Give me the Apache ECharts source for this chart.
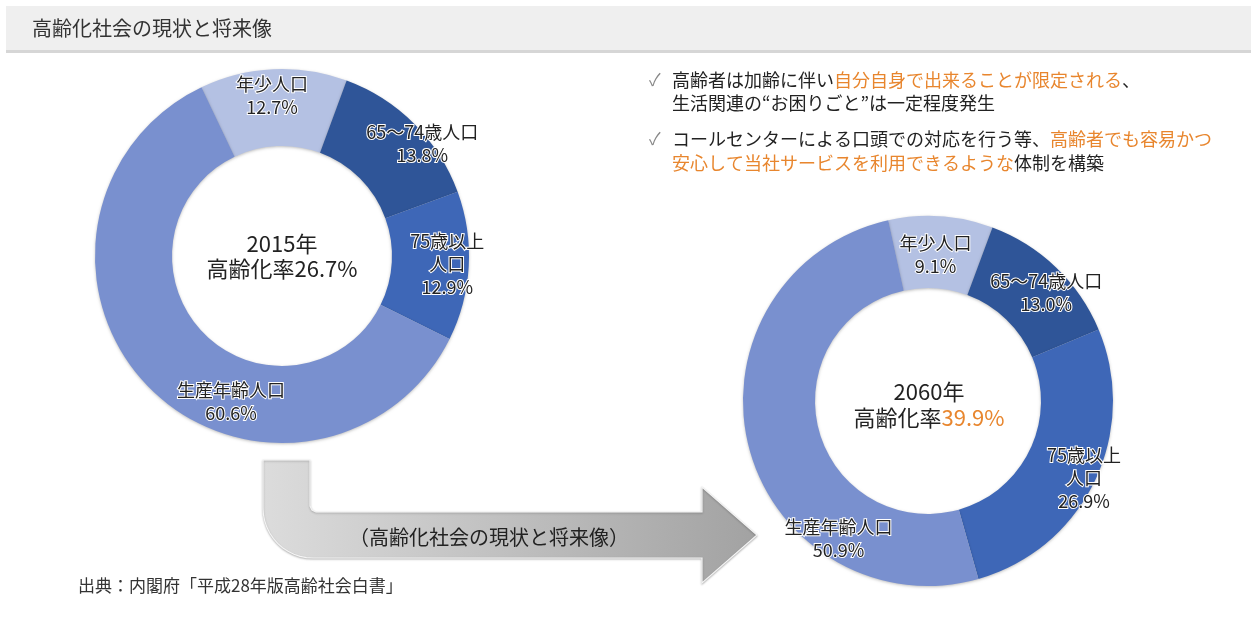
<!DOCTYPE html>
<html>
<head>
<meta charset="utf-8">
<script src="https://cdn.jsdelivr.net/npm/echarts@6/dist/echarts.min.js"></script>
<style>
html,body{margin:0;padding:0;background:#fff;}
#c{width:1251px;height:637px;}
</style>
</head>
<body>
<div id="c"></div>
<script>
// ---- data ----
const categories = ['年少人口', '65～74歳人口', '75歳以上\n人口', '生産年齢人口'];
const years = ['2015年', '2060年'];
const values2015 = [12.7, 13.8, 12.9, 60.6];
const values2060 = [9.1, 13.0, 26.9, 50.9];
const titleText = '高齢化社会の現状と将来像';
const arrowText = '（高齢化社会の現状と将来像）';
const sourceText = '出典：内閣府「平成28年版高齢社会白書」';

// ---- styles ----
const FONT = '"Noto Sans CJK JP", "Noto Sans", sans-serif';
const colors = ['#b4c1e3', '#2f5598', '#3e67b7', '#7990cf'];
const ORANGE = '#e8862e';
const TXT = '#222';
const offsets2015 = [[-3, -9], [33, -5], [14, 0], [57, 39]];
const offsets2060 = [[-3, 5], [13, 1], [19, 11], [58, 101]];

function pieSeries(values, center, radius, startAngle, offs) {
  return {
    type: 'pie',
    center: center,
    radius: radius,
    startAngle: startAngle,
    clockwise: true,
    silent: true,
    animation: false,
    itemStyle: { shadowColor: 'rgba(0,0,0,0.25)', shadowBlur: 3, shadowOffsetY: 1 },
    label: {
      show: true,
      position: 'inside',
      fontFamily: FONT,
      fontSize: 18,
      lineHeight: 23,
      color: TXT,
      textBorderColor: '#ffffff',
      textBorderWidth: 2,
      formatter: p => p.name + '\n' + p.value.toFixed(1) + '%'
    },
    labelLayout: p => ({ dx: offs[p.dataIndex][0], dy: offs[p.dataIndex][1] }),
    data: values.map((v, i) => ({ name: categories[i], value: v, itemStyle: { color: colors[i] } }))
  };
}

const rate2015 = (values2015[1] + values2015[2]).toFixed(1) + '%';
const rate2060 = (values2060[1] + values2060[2]).toFixed(1) + '%';

// arrow outline (decoration)
const arrowPts = [[263, 460], [310, 460], [310, 506], [312, 510], [316, 512], [702, 512], [702, 487], [757, 535], [702, 583], [702, 558], [313, 558]];
for (let k = 1; k <= 12; k++) {
  const t = k / 12 * Math.PI / 2;
  arrowPts.push([313 - 50 * Math.sin(t), 508 + 50 * Math.cos(t)]);
}

const chart = echarts.init(document.getElementById('c'), null, { renderer: 'canvas' });

const txt = (x, y, text, size, extra) => ({
  type: 'text', x: x, y: y, silent: true,
  style: Object.assign({ text: text, fontFamily: FONT, fontSize: size, fill: TXT }, extra || {})
});
const rich18 = { a: { fontFamily: FONT, fontSize: 18, fill: TXT }, o: { fontFamily: FONT, fontSize: 18, fill: ORANGE } };
const rich22 = { a: { fontFamily: FONT, fontSize: 22, fill: TXT }, o: { fontFamily: FONT, fontSize: 22, fill: ORANGE } };

chart.setOption({
  backgroundColor: '#ffffff',
  animation: false,
  series: [
    pieSeries(values2015, [282, 256], [110, 187], 115.5, offsets2015),
    pieSeries(values2060, [928, 401], [113, 185], 102.4, offsets2060)
  ],
  graphic: [
    // title bar
    { type: 'rect', silent: true, z: -1, shape: { x: 6, y: 6, width: 1245, height: 44 }, style: { fill: '#efefef' } },
    { type: 'rect', silent: true, z: -1, shape: { x: 6, y: 50, width: 1245, height: 3 }, style: { fill: '#d6d6d6' } },
    txt(32, 28, titleText, 20, { fill: '#333', verticalAlign: 'middle' }),
    // arrow
    {
      type: 'polygon', silent: true, z: -1,
      shape: { points: arrowPts },
      style: {
        fill: new echarts.graphic.LinearGradient(0, 0, 1, 0, [
          { offset: 0, color: '#dcdcdc' }, { offset: 1, color: '#a2a2a2' }
        ]),
        stroke: '#f4f4f4', lineWidth: 1.2,
        shadowColor: 'rgba(0,0,0,0.25)', shadowBlur: 2, shadowOffsetY: 1
      }
    },
    txt(489, 537, arrowText, 20, { textAlign: 'center', verticalAlign: 'middle' }),
    // source
    txt(78, 586, sourceText, 17, { fill: '#333', verticalAlign: 'middle' }),
    // center texts
    txt(282, 244, years[0], 22, { textAlign: 'center', verticalAlign: 'middle' }),
    txt(282, 269, '高齢化率' + rate2015, 22, { textAlign: 'center', verticalAlign: 'middle' }),
    txt(929, 392, years[1], 22, { textAlign: 'center', verticalAlign: 'middle' }),
    txt(929, 418, '{a|高齢化率}{o|' + rate2060 + '}', 22, { textAlign: 'center', verticalAlign: 'middle', rich: rich22 }),
    // bullet notes
    txt(649, 80, '✓', 17, { fill: '#888', verticalAlign: 'middle' }),
    txt(649, 139, '✓', 17, { fill: '#888', verticalAlign: 'middle' }),
    txt(672, 80, '{a|高齢者は加齢に伴い}{o|自分自身で出来ることが限定される}{a|、}', 18, { verticalAlign: 'middle', rich: rich18 }),
    txt(672, 103, '生活関連の“お困りごと”は一定程度発生', 18, { verticalAlign: 'middle' }),
    txt(672, 139, '{a|コールセンターによる口頭での対応を行う等、}{o|高齢者でも容易かつ}', 18, { verticalAlign: 'middle', rich: rich18 }),
    txt(672, 163, '{o|安心して当社サービスを利用できるような}{a|体制を構築}', 18, { verticalAlign: 'middle', rich: rich18 })
  ]
});
</script>
</body>
</html>
